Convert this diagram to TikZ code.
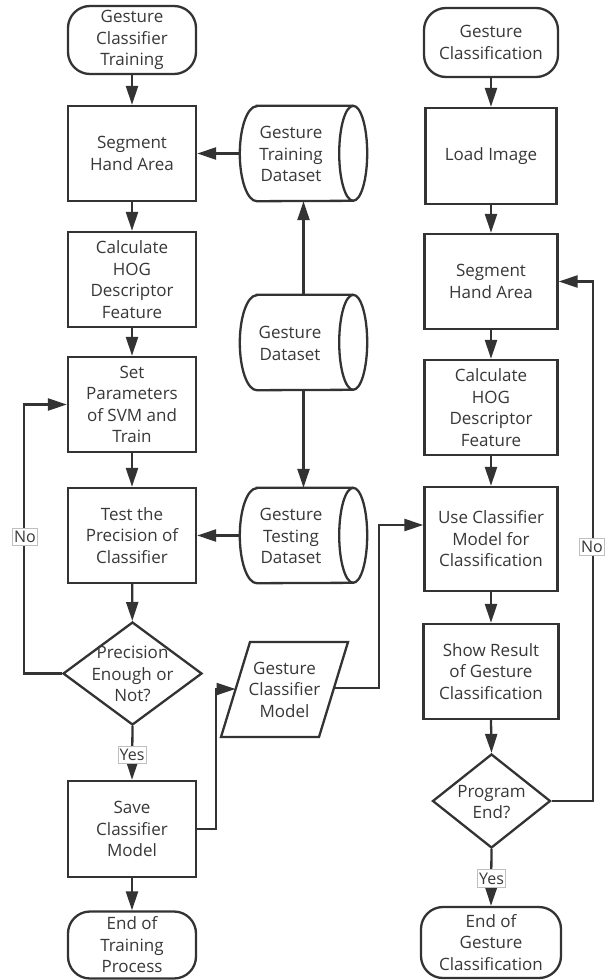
\documentclass[tikz,border=0pt]{standalone}
\usepackage{fontspec}
\setmainfont{Open Sans}
\usetikzlibrary{arrows.meta,shapes.geometric,calc}
\definecolor{ln}{HTML}{333333}
\definecolor{tx}{HTML}{383838}
\newcommand\cylout[1]{%
  \draw[lnk] ([xshift=17pt]#1.north west) -- ([xshift=-14pt]#1.north east)
    arc[start angle=90,end angle=-90,x radius=14pt,y radius=47.5pt]
    -- ([xshift=17pt]#1.south west)
    arc[start angle=270,end angle=90,x radius=17pt,y radius=47.5pt] -- cycle;
  \draw[lnk] ([xshift=-14pt]#1.north east)
    arc[start angle=90,end angle=270,x radius=14pt,y radius=47.5pt];}
\begin{document}
\begin{tikzpicture}[x=1pt,y=-1pt,
  every node/.style={font=\fontsize{17}{21.5}\selectfont, text=tx, align=center, inner sep=0pt},
  proc/.style={draw=ln, line width=2.3pt, minimum width=128pt, minimum height=95pt},
  term/.style={draw=ln, line width=2.3pt, rounded corners=22pt, minimum width=128pt, minimum height=68pt},
  dia/.style={diamond, draw=ln, line width=2.3pt, inner sep=0pt},
  cylbox/.style={minimum width=127pt, minimum height=95pt},
  arr/.style={draw=ln, line width=2.3pt, -{Triangle[length=19pt,width=12pt]}},
  lnk/.style={draw=ln, line width=2.3pt},
  tag/.style={draw=black!25, line width=0.6pt, fill=white, font=\fontsize{16}{18}\selectfont, inner xsep=1.5pt, inner ysep=3pt}
]
\useasboundingbox[fill=white] (0,0) rectangle (609,980);

% left column
\node[term] (t1) at (132,40) {Gesture\\Classifier\\Training};
\node[proc] (seg1) at (132,153.5) {Segment\\Hand Area};
\node[proc] (calc1) at (132,279.5) {Calculate\\HOG\\Descriptor\\Feature};
\node[proc] (set) at (132,404.5) {Set\\Parameters\\of SVM and\\Train};
\node[proc] (test) at (132,535.5) {Test the\\Precision of\\Classifier};
\node[dia, minimum width=139pt, minimum height=103pt] (dec1) at (132.5,673.5) {};
\node (dec1t) at (132.5,674) {Precision\\Enough or\\Not?};
\node[proc, minimum height=96pt] (save) at (132,829) {Save\\Classifier\\Model};
\node[term, minimum height=67pt] (e1) at (132,945) {End of\\Training\\Process};

% middle column
\node[cylbox] (trn) at (303.5,153.5) {};
\cylout{trn}
\node (trnt) at (291,154) {Gesture\\Training\\Dataset};
\node[cylbox] (gds) at (303.5,342.5) {};
\cylout{gds}
\node (gdst) at (290,343.5) {Gesture\\Dataset};
\node[cylbox] (tst) at (303.5,535.5) {};
\cylout{tst}
\node (tstt) at (291,536) {Gesture\\Testing\\Dataset};

\node (pm) at (284.5,689.5) {Gesture\\Classifier\\Model};
\draw[lnk, line join=miter] (250,642) -- (348,642) -- (319,737) -- (221,737) -- cycle;
\coordinate (pmin) at (235.5,689);
\coordinate (pmout) at (334,688);

% right column
\node[term, minimum width=134pt, minimum height=69pt] (t2) at (491,42.5) {Gesture\\Classification};
\node[proc, minimum width=131pt, minimum height=96pt] (load) at (491,156) {Load Image};
\node[proc, minimum width=133pt] (seg2) at (491,281.5) {Segment\\Hand Area};
\node[proc, minimum width=133pt] (calc2) at (491,407.5) {Calculate\\HOG\\Descriptor\\Feature};
\node[proc, minimum width=133pt, minimum height=104pt] (use) at (491,539) {Use Classifier\\Model for\\Classification};
\node[proc, minimum width=135pt] (show) at (491,671.5) {Show Result\\of Gesture\\Classification};
\node[dia, minimum width=118pt, minimum height=94pt] (dec2) at (491.5,801) {};
\node (dec2t) at (491.5,802) {Program\\End?};
\node[term, minimum width=140pt, minimum height=71pt] (e2) at (491,942.5) {End of\\Gesture\\Classification};

% left flow
\draw[arr] (t1) -- (seg1);
\draw[arr] (seg1) -- (calc1);
\draw[arr] (calc1) -- (set);
\draw[arr] (set) -- (test);
\draw[arr] (test) -- (dec1);
\draw[arr] (dec1.south) -- (save.north);
\node[tag] (yes1) at (132,755) {Yes};
\draw[arr] (save) -- (e1);
\draw[arr] (dec1.west) -- ++(-38,0) |- (set.west);
\node[tag] (no1) at (25,537) {No};

% middle flow
\draw[arr] (trn.west) -- (seg1.east);
\draw[arr] (gds.north) -- (trn.south);
\draw[arr] (gds.south) -- (tst.north);
\draw[arr] (tst.west) -- (test.east);
\draw[arr] (save.east) -- ++(19,0) |- (pmin);
\draw[arr] (pmout) -- ++(45,0) |- ([yshift=14pt]use.west);

% right flow
\draw[arr] (t2) -- (load);
\draw[arr] (load) -- (seg2);
\draw[arr] (seg2) -- (calc2);
\draw[arr] (calc2) -- (use);
\draw[arr] (use) -- (show);
\draw[arr] (show.south) -- (dec2.north);
\draw[arr] (dec2.south) -- (e2.north);
\node[tag] (yes2) at (491.5,878.5) {Yes};
\draw[arr] (dec2.east) -- ++(41,0) |- (seg2.east);
\node[tag] (no2) at (592,547) {No};
\end{tikzpicture}
\end{document}
